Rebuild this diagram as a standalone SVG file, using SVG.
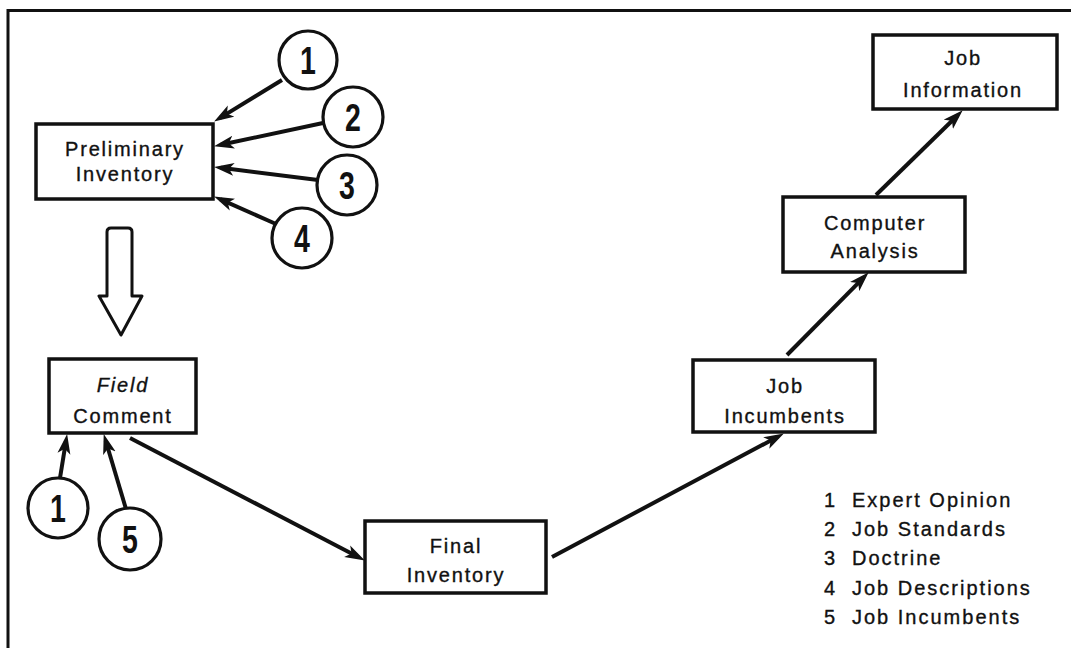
<svg xmlns="http://www.w3.org/2000/svg" width="1071" height="648" viewBox="0 0 1071 648">
<style>
.box{fill:#fff;stroke:#111;stroke-width:3.5}
.circ{fill:#fff;stroke:#111;stroke-width:3.2}
.lbl{font-family:"Liberation Sans",Arial,sans-serif;font-size:20px;letter-spacing:1.8px;fill:#111;stroke:#111;stroke-width:0.35;text-anchor:middle}
.num{font-family:"Liberation Sans",Arial,sans-serif;font-size:38px;font-weight:bold;fill:#111;text-anchor:middle}
.leg{font-family:"Liberation Sans",Arial,sans-serif;font-size:20px;letter-spacing:2px;fill:#111;stroke:#111;stroke-width:0.35}
.conn{stroke:#111;stroke-width:4;fill:none;marker-end:url(#ah)}
.frame{stroke:#111;stroke-width:3;fill:none}
</style>
<defs>
<marker id="ah" markerUnits="userSpaceOnUse" markerWidth="22" markerHeight="14" viewBox="0 0 22 14" refX="13" refY="7" orient="auto">
<path d="M0,0.5 L20,7 L0,13.5 L5,7 Z" fill="#111"/>
</marker>
</defs>
<rect width="1071" height="648" fill="#fff"/>
<path class="frame" d="M1071,10.5 L8,10.5 L8,648"/>

<g id="connectors">
<line class="conn" x1="282" y1="80" x2="220.1" y2="117.9"/>
<line class="conn" x1="323" y1="123" x2="220.9" y2="144.8"/>
<line class="conn" x1="318" y1="180" x2="221" y2="167.8"/>
<line class="conn" x1="276" y1="224" x2="220.5" y2="199.4"/>
<line class="conn" x1="60" y1="478" x2="66" y2="440.9"/>
<line class="conn" x1="126" y1="509" x2="105.7" y2="440.8"/>
<line class="conn" x1="130" y1="438" x2="358.7" y2="557.2"/>
<line class="conn" x1="552" y1="557" x2="777.7" y2="436.8"/>
<line class="conn" x1="787" y1="355" x2="863.8" y2="277.3"/>
<line class="conn" x1="876" y1="195" x2="957.7" y2="115.2"/>
<path id="hollow-arrow" d="M107,296 L107,232 Q107,228 111,228 L128,228 Q132,228 132,232 L132,296 L142,296 L121,335 L99,296 Z" fill="#fff" stroke="#111" stroke-width="3" stroke-linejoin="round"/>
</g>

<g id="preliminary-inventory">
<rect class="box" x="36" y="124" width="177" height="75"/>
<text class="lbl" x="125" y="156">Preliminary</text>
<text class="lbl" x="125" y="181">Inventory</text>
</g>

<g id="source-1-top">
<circle class="circ" cx="308" cy="60" r="29"/>
<text class="num" transform="translate(308,74) scale(0.75,1)">1</text>
</g>
<g id="source-2">
<circle class="circ" cx="353" cy="117" r="30"/>
<text class="num" transform="translate(353,131) scale(0.75,1)">2</text>
</g>
<g id="source-3">
<circle class="circ" cx="347" cy="185" r="30"/>
<text class="num" transform="translate(347,199) scale(0.75,1)">3</text>
</g>
<g id="source-4">
<circle class="circ" cx="302" cy="238" r="30"/>
<text class="num" transform="translate(302,252) scale(0.75,1)">4</text>
</g>

<g id="field-comment">
<rect class="box" x="49" y="359" width="147" height="74"/>
<text class="lbl" x="123" y="392" font-style="italic">Field</text>
<text class="lbl" x="123" y="423">Comment</text>
</g>

<g id="source-1-bottom">
<circle class="circ" cx="58" cy="508" r="30"/>
<text class="num" transform="translate(58,522) scale(0.75,1)">1</text>
</g>
<g id="source-5">
<circle class="circ" cx="130" cy="539" r="31"/>
<text class="num" transform="translate(130,553) scale(0.75,1)">5</text>
</g>

<g id="final-inventory">
<rect class="box" x="365" y="521" width="181" height="72"/>
<text class="lbl" x="456" y="553">Final</text>
<text class="lbl" x="456" y="582">Inventory</text>
</g>

<g id="job-incumbents">
<rect class="box" x="693" y="360" width="182" height="72"/>
<text class="lbl" x="785" y="393">Job</text>
<text class="lbl" x="785" y="423">Incumbents</text>
</g>

<g id="computer-analysis">
<rect class="box" x="783" y="197" width="182" height="75"/>
<text class="lbl" x="875" y="230">Computer</text>
<text class="lbl" x="875" y="258">Analysis</text>
</g>

<g id="job-information">
<rect class="box" x="873" y="35" width="184" height="74"/>
<text class="lbl" x="963" y="65">Job</text>
<text class="lbl" x="963" y="97">Information</text>
</g>

<g id="legend">
<text class="leg" x="824" y="507">1</text><text class="leg" x="852" y="507">Expert Opinion</text>
<text class="leg" x="824" y="536">2</text><text class="leg" x="852" y="536">Job Standards</text>
<text class="leg" x="824" y="565">3</text><text class="leg" x="852" y="565">Doctrine</text>
<text class="leg" x="824" y="595">4</text><text class="leg" x="852" y="595">Job Descriptions</text>
<text class="leg" x="824" y="624">5</text><text class="leg" x="852" y="624">Job Incumbents</text>
</g>
</svg>
